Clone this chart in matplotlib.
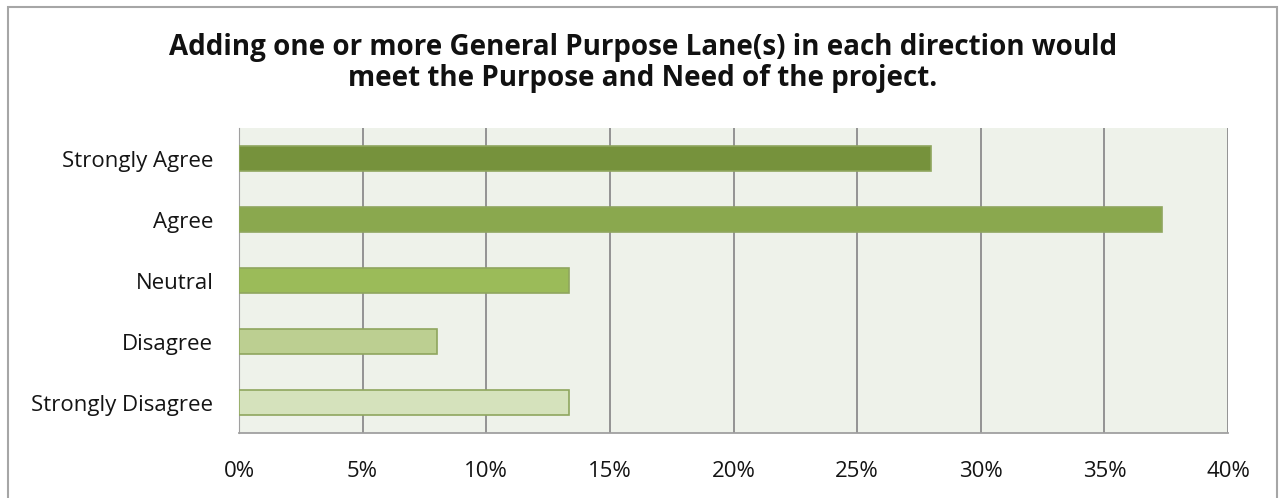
import matplotlib.pyplot as plt
import matplotlib.patches as mpatches
from matplotlib.ticker import FuncFormatter

# Survey responses (share of respondents)
categories = ['Strongly Agree', 'Agree', 'Neutral', 'Disagree', 'Strongly Disagree']
shares = [28.0, 37.33, 13.33, 8.0, 13.33]
bar_colors = ['#76923C', '#8AA84E', '#9BBB59', '#BCCF91', '#D5E2BC']
x_ticks = [0, 5, 10, 15, 20, 25, 30, 35, 40]

plt.rcParams['font.family'] = ['Open Sans', 'DejaVu Sans']

fig = plt.figure(figsize=(12.81, 4.98), dpi=100)
ax = fig.add_axes([239 / 1281, 1 - 433 / 498, (1228 - 239) / 1281, (433 - 128) / 498])

# Outer frame of the chart
fig.patches.append(mpatches.Rectangle((8 / 1281, -0.05), (1277 - 8) / 1281, 1.05 - 7 / 498,
                                      transform=fig.transFigure, fill=False,
                                      edgecolor='#A6A6A6', linewidth=1.5))

ypos = list(range(len(categories)))
ax.barh(ypos, shares, height=0.41, color=bar_colors, edgecolor='#8FA65E', linewidth=1.2, zorder=3)

ax.set_facecolor('#EEF2EA')
ax.set_xlim(0, 40)
ax.set_ylim(len(categories) - 0.5, -0.5)
ax.set_xticks(x_ticks)
ax.xaxis.set_major_formatter(FuncFormatter(lambda v, p: f'{v:.0f}%'))
ax.set_yticks(ypos)
ax.set_yticklabels(categories)
ax.tick_params(axis='both', length=0, labelsize=16, colors='#141414')
ax.tick_params(axis='x', pad=20)
ax.tick_params(axis='y', pad=18.5)
ax.grid(axis='x', color='#8C8C8C', linewidth=1.3, zorder=1)

for side in ['top', 'right']:
    ax.spines[side].set_visible(False)
ax.spines['bottom'].set_color('#A0A0A0')
ax.spines['bottom'].set_linewidth(1.3)
ax.spines['left'].set_color('#A0A0A0')

fig.text(643 / 1281, 1 - 63 / 498,
         'Adding one or more General Purpose Lane(s) in each direction would\nmeet the Purpose and Need of the project.',
         ha='center', va='center', fontsize=20, fontweight='bold', color='#111111', linespacing=1.12)

plt.savefig('out.png', dpi=100)
